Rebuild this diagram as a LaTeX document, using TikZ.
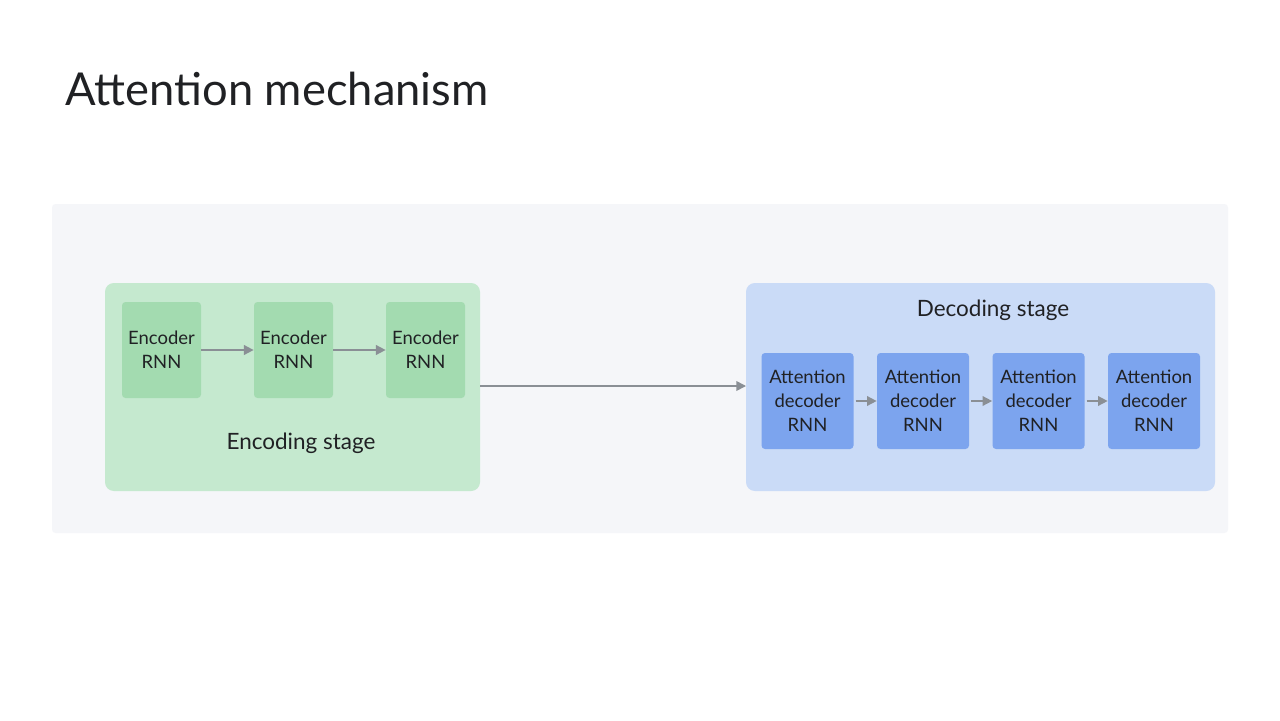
\documentclass[tikz,border=0pt]{standalone}
\usepackage{fontspec}
\setmainfont{Lato}
\usepackage{tikz}
\usetikzlibrary{arrows.meta,positioning}
\definecolor{ink}{HTML}{202124}
\definecolor{panel}{HTML}{F5F6F9}
\definecolor{encbg}{HTML}{C5E9CF}
\definecolor{encbox}{HTML}{A3DBB0}
\definecolor{decbg}{HTML}{CADBF7}
\definecolor{decbox}{HTML}{7CA4EE}
\definecolor{arr}{HTML}{8A8F95}
\tikzset{
  stagebox/.style={rounded corners=5pt, draw=none},
  rnn/.style={rounded corners=2pt, draw=none, align=center, text=ink,
    font=\fontsize{10.5}{13.6}\selectfont, inner sep=0pt},
  conn/.style={draw=arr, line width=0.9pt, -{Triangle[length=5.5pt,width=5.5pt]}},
  lab/.style={text=ink, font=\fontsize{12.8}{15}\selectfont},
}

\begin{document}
\begin{tikzpicture}[x=0.02cm, y=-0.02cm]
  \useasboundingbox (0,0) rectangle (1280,720);
  \fill[white] (0,0) rectangle (1280,720);
  % title
  \node[anchor=base west, text=ink, font=\fontsize{25.8}{30}\selectfont, inner sep=0pt]
    (title) at (65,105) {Attention mechanism};
  % panel and stages
  \fill[panel, rounded corners=2pt] (52,204) rectangle (1228,533);
  \fill[stagebox, encbg] (105,283) rectangle (480,491);
  \fill[stagebox, decbg] (746,283) rectangle (1215,491);
  \node[lab] (encstage) at (301,443) {Encoding stage};
  \node[lab] (decstage) at (993,310) {Decoding stage};
  % encoder cells
  \foreach \i/\x in {1/161.5,2/293.5,3/425.5}
    \node[rnn, fill=encbox, minimum width=79*0.02cm, minimum height=96*0.02cm]
      (enc\i) at (\x,350) {Encoder\\RNN};
  % decoder cells
  \foreach \i/\x in {1/807.5,2/923,3/1038.5,4/1154}
    \node[rnn, fill=decbox, minimum width=92*0.02cm, minimum height=96*0.02cm]
      (dec\i) at (\x,401) {Attention\\decoder\\RNN};
  \draw[conn] (enc1) -- (enc2);
  \draw[conn] (enc2) -- (enc3);
  \foreach \a/\b in {1/2,2/3,3/4}
    \draw[conn, shorten <=1pt] (dec\a) -- (dec\b);
  \coordinate (encout) at (480,386);
  \coordinate (decin) at (746,386);
  \draw[conn] (encout) -- (decin);
\end{tikzpicture}
\end{document}
